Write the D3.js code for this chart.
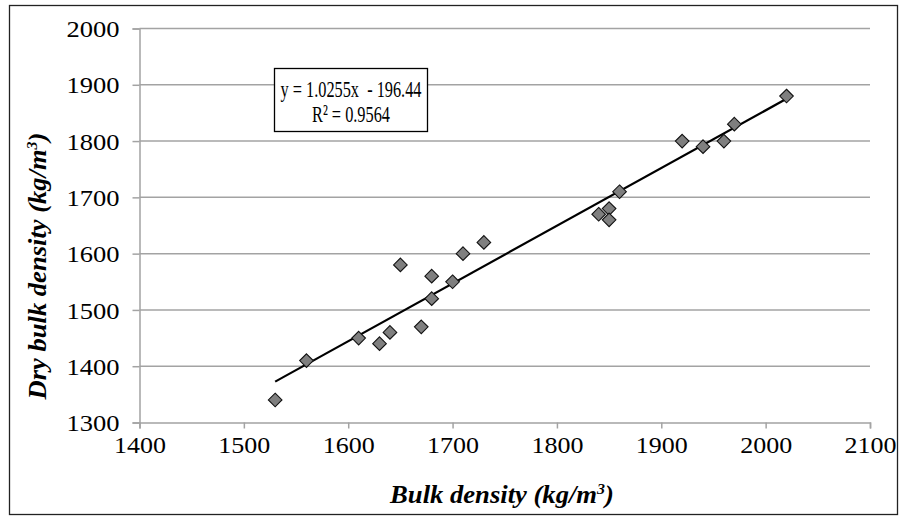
<!DOCTYPE html>
<html><head><meta charset="utf-8">
<script src="https://cdn.jsdelivr.net/npm/d3@7"></script>
<style>
html,body{margin:0;padding:0;background:#fff;}
svg text{font-family:"Liberation Serif","Times New Roman",serif;fill:#000;}
</style></head>
<body>
<svg id="chart" width="906" height="520"></svg>
<script>
const bulkDensity = [1530,1560,1610,1630,1640,1650,1670,1680,1680,1700,1710,1730,1840,1850,1850,1860,1920,1940,1960,1970,2020];
const dryBulkDensity = [1340,1410,1450,1440,1460,1580,1470,1560,1520,1550,1600,1620,1670,1680,1660,1710,1800,1790,1800,1830,1880];
const xTicks = [1400,1500,1600,1700,1800,1900,2000,2100];
const yTicks = [1300,1400,1500,1600,1700,1800,1900,2000];
const trendSlope = 1.0255, trendIntercept = -196.44;
const equationLines = ["y = 1.0255x  - 196.44", "R\u00B2 = 0.9564"];

(function(){
const svg = d3.select("#chart");
const pL = 139.5, pR = 870, pT = 28.5, pB = 422.5;

svg.append("rect").attr("x",9.5).attr("y",5.5).attr("width",888).attr("height",509)
  .attr("fill","#fff").attr("stroke","#222").attr("stroke-width",1.3);

const x = d3.scaleLinear().domain([1400,2100]).range([pL,pR]);
const y = d3.scaleLinear().domain([1300,2000]).range([pB,pT]);
const grid = "#a3a3a3";

svg.append("g").selectAll("line").data(yTicks.filter(t=>t>1300)).join("line")
  .attr("x1",pL).attr("x2",pR).attr("y1",d=>y(d)).attr("y2",d=>y(d))
  .attr("stroke",grid).attr("stroke-width",1.5);

const yAxis = svg.append("g").attr("transform",`translate(${pL},0)`)
  .call(d3.axisLeft(y).tickValues(yTicks).tickSize(7).tickPadding(13).tickFormat(d3.format("d")));
yAxis.select(".domain").attr("stroke",grid).attr("stroke-width",1.5);
yAxis.selectAll(".tick line").attr("stroke",grid).attr("stroke-width",1.5);
yAxis.selectAll("text").style("font-size","24px").attr("dy","0.34em")
  .attr("textLength",53).attr("lengthAdjust","spacingAndGlyphs");

const xAxis = svg.append("g").attr("transform",`translate(0,${pB})`)
  .call(d3.axisBottom(x).tickValues(xTicks).tickSize(6).tickPadding(7).tickFormat(d3.format("d")));
xAxis.select(".domain").attr("stroke",grid).attr("stroke-width",1.5);
xAxis.selectAll(".tick line").attr("stroke",grid).attr("stroke-width",1.5);
xAxis.selectAll("text").style("font-size","24px")
  .attr("textLength",52).attr("lengthAdjust","spacingAndGlyphs");

const xMin = d3.min(bulkDensity), xMax = d3.max(bulkDensity);
svg.append("line")
  .attr("x1",x(xMin)).attr("y1",y(trendSlope*xMin+trendIntercept))
  .attr("x2",x(xMax)).attr("y2",y(trendSlope*xMax+trendIntercept))
  .attr("stroke","#000").attr("stroke-width",2.2);

const pts = bulkDensity.map((v,i)=>({x:v,y:dryBulkDensity[i]}));
const r = 6.8;
svg.append("g").selectAll("path").data(pts).join("path")
  .attr("d",d=>`M${x(d.x)},${y(d.y)-r}L${x(d.x)+r},${y(d.y)}L${x(d.x)},${y(d.y)+r}L${x(d.x)-r},${y(d.y)}Z`)
  .attr("fill","#7f7f7f").attr("stroke","#111").attr("stroke-width",1.1);

const bx = 274.5, by = 68.5, bw = 153, bh = 63;
svg.append("rect").attr("x",bx).attr("y",by).attr("width",bw).attr("height",bh)
  .attr("fill","#fff").attr("stroke","#000").attr("stroke-width",1.3);
const eqW = [141, 78];
svg.append("g").selectAll("text").data(equationLines).join("text")
  .attr("x",bx+bw/2).attr("y",(d,i)=>by+28+i*25).attr("text-anchor","middle")
  .style("font-size","24px").style("white-space","pre")
  .attr("textLength",(d,i)=>eqW[i]).attr("lengthAdjust","spacingAndGlyphs")
  .text(d=>d);

function fitScale(sel, target){
  return target / sel.node().getBBox().width;
}

const xt = svg.append("text").attr("x",0).attr("y",0).attr("text-anchor","middle")
  .style("font-size","25px").style("font-weight","bold").style("font-style","italic");
xt.append("tspan").text("Bulk density (kg/m");
xt.append("tspan").attr("dy",-9).style("font-size","15px").text("3");
xt.append("tspan").attr("dy",9).text(")");
xt.attr("transform",`translate(502,503) scale(${fitScale(xt,225)},1)`);

const yt = svg.append("text").attr("x",0).attr("y",0).attr("text-anchor","middle")
  .style("font-size","25px").style("font-weight","bold").style("font-style","italic");
yt.append("tspan").text("Dry bulk density (kg/m");
yt.append("tspan").attr("dy",-9).style("font-size","15px").text("3");
yt.append("tspan").attr("dy",9).text(")");
yt.attr("transform",`translate(46,266) rotate(-90) scale(${fitScale(yt,268)},1)`);
})();
</script>
</body></html>
